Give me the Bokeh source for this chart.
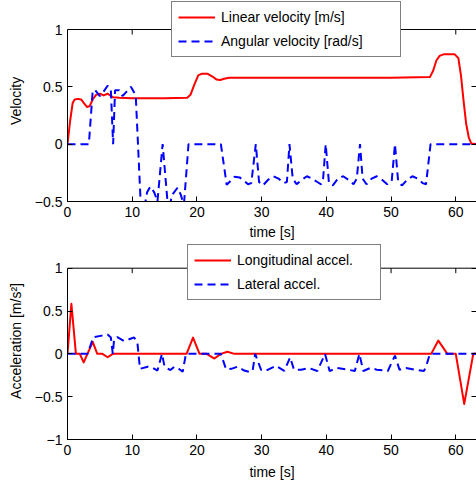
import math
from bokeh.plotting import figure
from bokeh.models import Range1d, LinearAxis, FixedTicker, Legend, LegendItem, Span
from bokeh.layouts import column
from bokeh.embed import file_html
from bokeh.resources import INLINE

FONT = "Liberation Sans"
RED = "#ff0000"
BLUE = "#0000ff"

# ---------------- data ----------------
# Top panel: linear velocity [m/s]
t_lin = [0, 0.4, 0.8, 1.1, 1.6, 2.1, 2.5, 3.0, 3.4, 3.9, 4.4, 5.0, 5.6, 6.2, 7.0, 8.0,
         10, 15, 18.5, 19.0, 19.6, 20.2, 20.8, 21.6, 22.4, 23.0, 23.6, 24.2, 25.0, 26.0,
         30, 40, 50, 56.0, 56.5, 57.0, 57.5, 58.2, 59.8, 60.4, 60.8, 61.2, 61.6, 62.0,
         62.4, 63.2]
v_lin = [0, 0.2, 0.36, 0.39, 0.395, 0.39, 0.36, 0.325, 0.33, 0.39, 0.43, 0.44, 0.425,
         0.44, 0.41, 0.405, 0.40, 0.40, 0.405, 0.43, 0.52, 0.60, 0.615, 0.615, 0.59,
         0.565, 0.56, 0.57, 0.58, 0.58, 0.58, 0.58, 0.58, 0.585, 0.64, 0.73, 0.77,
         0.785, 0.785, 0.75, 0.6, 0.38, 0.18, 0.06, 0.005, 0]

# Top panel: angular velocity [rad/s]
t_ang = [0, 3.3, 3.9, 4.3, 5.0, 5.6, 6.2, 6.7, 7.05, 7.35, 8.0, 8.5, 9.0, 9.8, 10.3,
         10.55, 11.3, 11.8, 12.3, 12.8, 13.4, 13.9, 14.7, 15.45, 15.8, 16.2, 17.0,
         17.5, 17.8, 18.0, 18.7, 23.7, 24.6, 25.2, 25.8, 26.6, 27.3, 27.9, 28.4, 29.1,
         29.6, 30.2, 31.0, 31.8, 32.6, 33.4, 33.9, 34.3, 34.8, 35.4, 36.2, 37.0, 37.8,
         38.6, 39.2, 39.5, 39.9, 40.4, 41.0, 41.8, 42.6, 43.4, 44.2, 44.7, 45.2, 45.6,
         46.2, 47.0, 47.8, 48.6, 49.4, 50.1, 50.6, 51.1, 51.7, 52.5, 53.3, 54.1, 54.9,
         55.4, 56.1, 63.2]
w_ang = [0, 0, 0.47, 0.47, 0.42, 0.46, 0.51, 0.47, 0, 0.47, 0.47, 0.42, 0.45, 0.50,
         0.45, 0.42, -0.5, -0.58, -0.42, -0.37, -0.42, -0.5, 0, -0.5, -0.53, -0.44,
         -0.38, -0.44, -0.5, -0.52, 0, 0, -0.355, -0.32, -0.285, -0.29, -0.32, -0.35,
         -0.34, 0, -0.33, -0.36, -0.31, -0.28, -0.3, -0.34, -0.33, 0, -0.3, -0.35,
         -0.31, -0.28, -0.3, -0.33, -0.35, -0.3, 0, -0.34, -0.36, -0.3, -0.28, -0.31,
         -0.35, -0.3, 0, -0.3, -0.35, -0.3, -0.28, -0.31, -0.35, -0.32, 0, -0.33,
         -0.36, -0.31, -0.28, -0.3, -0.34, -0.35, 0, 0]

# Bottom panel: longitudinal acceleration [m/s^2]
t_lon = [0, 0.6, 1.3, 1.9, 2.5, 3.9, 4.6, 5.4, 6.2, 7.0, 18.4, 19.4, 20.4, 21.5, 22.7,
         23.7, 24.7, 25.8, 56.2, 57.3, 58.7, 60.0, 61.3, 62.7, 63.2]
a_lon = [0, 0.585, 0, 0, -0.1, 0.14, 0, 0, -0.04, 0, 0, 0.19, 0, 0, -0.055, 0, 0.025,
         0, 0, 0.155, 0, 0, -0.585, 0, 0]

# Bottom panel: lateral acceleration [m/s^2]
t_lat = [0, 3.1, 4.0, 5.1, 6.2, 6.7, 7.0, 7.2, 7.7, 8.7, 9.5, 10.3, 10.8, 11.2, 12.4,
         13.1, 13.9, 14.6, 15.0, 15.9, 16.5, 17.3, 17.8, 18.3, 23.7, 24.5, 25.3, 26.3,
         27.3, 28.1, 28.6, 29.0, 29.9, 30.6, 32.2, 33.5, 34.4, 35.0, 36.1, 37.3, 38.6,
         39.8, 40.5, 41.7, 43.3, 44.4, 45.1, 45.7, 46.8, 47.8, 49.5, 50.6, 51.3, 52.3,
         53.6, 55.1, 55.6, 56.0, 63.2]
a_lat = [0, 0, 0.195, 0.21, 0.225, 0.19, 0, 0.17, 0.195, 0.15, 0.17, 0.19, 0.13, -0.175,
         -0.15, -0.16, -0.195, 0, -0.15, -0.19, -0.15, -0.18, -0.21, 0, 0, -0.18, -0.175,
         -0.15, -0.195, -0.21, -0.2, 0, -0.185, -0.2, -0.14, -0.2, -0.04, -0.185, -0.185,
         -0.165, -0.2, 0, -0.2, -0.165, -0.185, -0.2, 0, -0.2, -0.165, -0.185, -0.2,
         -0.02, -0.185, -0.165, -0.185, -0.2, -0.1, 0, 0]

x_ticks = [0, 10, 20, 30, 40, 50, 60]
x_tick_labels = ["0", "10", "20", "30", "40", "50", "60"]
x_limits = (0, 63.2)
vel_ticks = [-0.5, 0, 0.5, 1]
vel_tick_labels = ["\u22120.5", "0", "0.5", "1"]
vel_limits = (-0.5, 1)
acc_ticks = [-1, -0.5, 0, 0.5, 1]
acc_tick_labels = ["\u22121", "\u22120.5", "0", "0.5", "1"]
acc_limits = (-1, 1)


def style_axis(ax, ticks, labels, show_labels=True):
    ax.ticker = FixedTicker(ticks=ticks)
    ax.major_label_overrides = {t: l for t, l in zip(ticks, labels)}
    ax.minor_tick_line_color = None
    ax.major_tick_in = 5
    ax.major_tick_out = 0
    ax.axis_line_color = "black"
    ax.major_tick_line_color = "black"
    ax.major_label_text_font = FONT
    ax.major_label_text_font_size = "14px"
    ax.axis_label_text_font = FONT
    ax.axis_label_text_font_size = "14px"
    ax.axis_label_text_font_style = "normal"
    ax.axis_label_text_color = "black"
    if show_labels:
        ax.major_label_text_color = "black"
    else:
        ax.major_label_text_color = None
        ax.major_label_standoff = 0


def make_panel(frame_h, bottom, ylim, y_extra, yticks, ylabels, ylabel, xlab_standoff):
    p = figure(frame_width=409, frame_height=frame_h,
               x_range=Range1d(*x_limits), y_range=Range1d(ylim[0], ylim[1] + y_extra),
               output_backend="svg", toolbar_location=None,
               min_border_left=67, min_border_right=0,
               min_border_top=0, min_border_bottom=bottom)
    p.grid.visible = False
    p.outline_line_color = None
    p.background_fill_color = "white"
    p.border_fill_color = "white"
    style_axis(p.xaxis[0], x_ticks, x_tick_labels)
    p.xaxis[0].axis_label = "time [s]"
    p.xaxis[0].major_label_standoff = 5
    p.xaxis[0].axis_label_standoff = xlab_standoff
    style_axis(p.yaxis[0], yticks, ylabels)
    p.yaxis[0].axis_label = ylabel
    p.yaxis[0].major_label_standoff = 5
    p.yaxis[0].axis_label_standoff = 8
    p.yaxis[0].bounds = ylim
    right_ax = LinearAxis(bounds=ylim)
    style_axis(right_ax, yticks, ylabels, show_labels=False)
    p.add_layout(right_ax, "right")
    # top edge of the axes box, with inward ticks
    p.add_layout(Span(location=ylim[1], dimension="width", line_color="black", line_width=1))
    p.ray(x=x_ticks, y=[ylim[1]] * len(x_ticks), length=5, angle=-math.pi / 2,
          length_units="screen", line_color="black", line_width=1)
    return p


def make_legend(items, loc, label_width):
    return Legend(items=items, location=loc, border_line_color="black",
                  border_line_width=1, background_fill_color="white",
                  background_fill_alpha=1.0, label_text_font=FONT,
                  label_text_font_size="14px", label_text_color="black",
                  glyph_width=37, glyph_height=18, label_height=18, spacing=6,
                  padding=6, margin=0, label_standoff=6, label_width=label_width)


# top panel: frame 0..201 px, y=1 at 29 px
p1 = make_panel(201, 41, vel_limits, 0.253, vel_ticks, vel_tick_labels, "Velocity", 4)
r1 = p1.line(t_lin, v_lin, line_color=RED, line_width=2, line_join="round")
r2 = p1.line(t_ang, w_ang, line_color=BLUE, line_width=2, line_dash="8 5")
p1.add_layout(make_legend([LegendItem(label="Linear velocity [m/s]", renderers=[r1]),
                           LegendItem(label="Angular velocity [rad/s]", renderers=[r2])],
                          (104, 144), 173))

# bottom panel: frame 242..439 px, y=1 at 268 px
p2 = make_panel(197, 45, acc_limits, 0.30, acc_ticks, acc_tick_labels,
                "Acceleration [m/s²]", 6)
r3 = p2.line(t_lon, a_lon, line_color=RED, line_width=2, line_join="round")
r4 = p2.line(t_lat, a_lat, line_color=BLUE, line_width=2, line_dash="8 5")
p2.add_layout(make_legend([LegendItem(label="Longitudinal accel.", renderers=[r3]),
                           LegendItem(label="Lateral accel.", renderers=[r4])],
                          (120, 139), 137))

layout = column(p1, p2)
open("out.html", "w").write(file_html(layout, INLINE))
